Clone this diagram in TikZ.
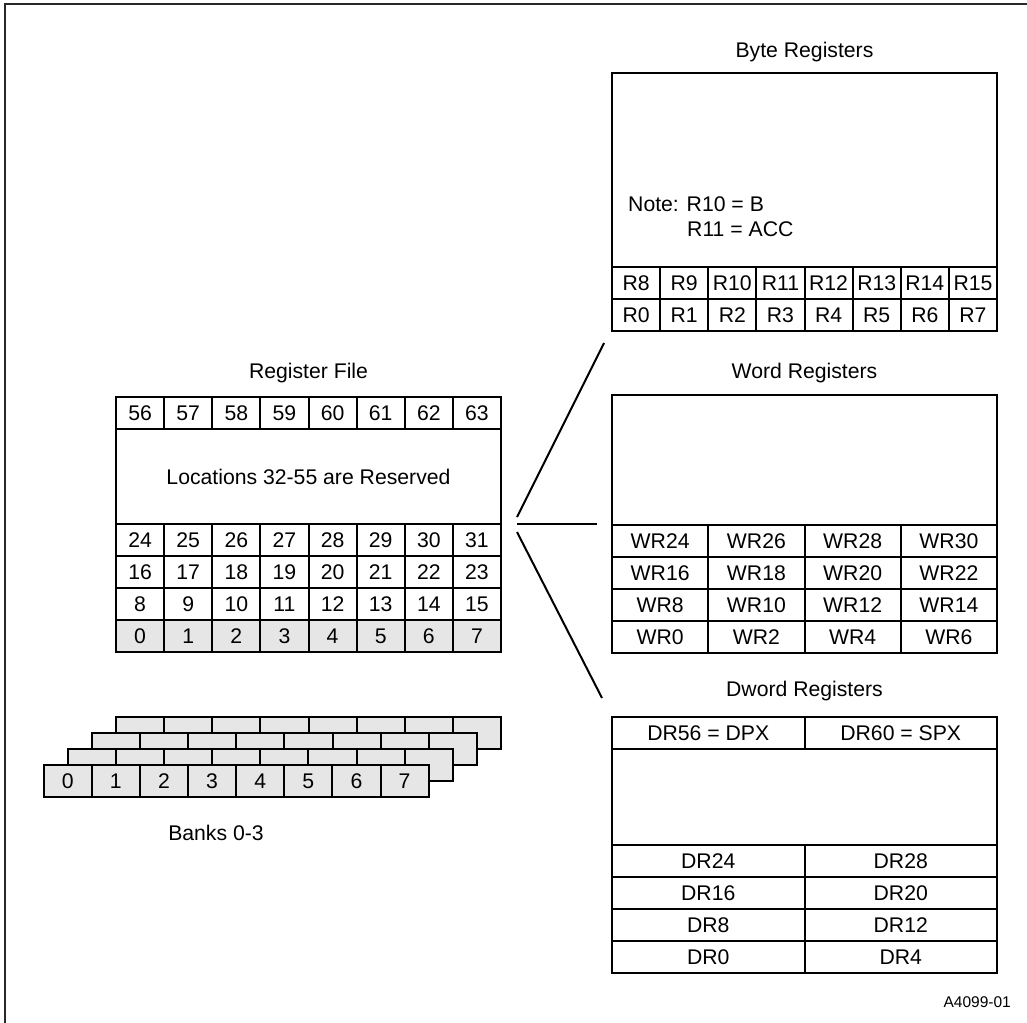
\documentclass[tikz,border=0pt]{standalone}
\usepackage{fontspec}
\setmainfont{Liberation Sans}
\definecolor{bankgray}{RGB}{230,230,230}
\definecolor{framegray}{RGB}{40,40,40}
\tikzset{
  txt/.style={inner sep=0pt, font=\fontsize{21.2}{25}\selectfont},
  box/.style={txt, draw, line width=2pt, minimum height=32pt},
  c8/.style={box, minimum width=48.125pt},
  c4/.style={box, minimum width=96.25pt},
  c2/.style={box, minimum width=192.5pt},
  bigbox/.style={box, minimum width=385pt},
  shaded/.style={fill=bankgray},
  conn/.style={line width=2pt},
  small/.style={inner sep=0pt, font=\fontsize{15.5}{18}\selectfont}
}
\begin{document}
\begin{tikzpicture}[x=1pt,y=-1pt]
\useasboundingbox (0,0) rectangle (1027,1022);
% frame
\draw[line width=2pt, framegray] (5,1023) -- (5,4) -- (1028,4);

% ---------- Register File ----------
\node[txt] (rftitle) at (308.5,373) {Register File};
\foreach \base/\y/\sty in {56/413/, 24/540/, 16/572/, 8/604/, 0/636/shaded} {
  \foreach \c in {0,...,7} {
    \pgfmathtruncatemacro{\n}{\base+\c}
    \node[c8,\sty] (rf\n) at ({116+48.125*(\c+0.5)},\y) {\n};
  }
}
\node[bigbox, minimum height=95pt] (rfres) at (308.5,476.5) {Locations 32-55 are Reserved};

% ---------- Banks ----------
\foreach \b in {3,2,1} {
  \foreach \c in {0,...,7} {
    \node[c8,shaded] (bank\b c\c) at ({43.7+24.1*\b+48.125*(\c+0.5)},{781-16*\b}) {};
  }
}
\foreach \c in {0,...,7} {
  \node[c8,shaded] (bank0c\c) at ({43.7+48.125*(\c+0.5)},781) {\c};
}
\node[txt] (banks) at (216,833) {Banks 0-3};

% ---------- Byte Registers ----------
\node[txt] (bytetitle) at (804.5,52) {Byte Registers};
\node[bigbox, minimum height=194pt] (bytebig) at (804.5,170) {};
\node[txt, anchor=west] (note1) at (628,204) {Note: R10 = B};
\node[txt, anchor=west] (note2) at (687,229) {R11 = ACC};
\foreach \c in {0,...,7} {
  \pgfmathtruncatemacro{\hi}{\c+8}
  \node[c8] (br\hi) at ({612+48.125*(\c+0.5)},283) {R\hi};
  \node[c8] (br\c) at ({612+48.125*(\c+0.5)},315) {R\c};
}

% ---------- Word Registers ----------
\node[txt] (wordtitle) at (804.5,373) {Word Registers};
\node[bigbox, minimum height=130pt] (wordbig) at (804.5,460) {};
\foreach \base/\y in {24/541, 16/573, 8/605, 0/637} {
  \foreach \c in {0,...,3} {
    \pgfmathtruncatemacro{\n}{\base+2*\c}
    \node[c4] (wr\n) at ({612+96.25*(\c+0.5)},\y) {WR\n};
  }
}

% ---------- Dword Registers ----------
\node[txt] (dwtitle) at (804.5,691) {Dword Registers};
\node[c2] (dr56) at (708.25,733) {DR56 = DPX};
\node[c2] (dr60) at (900.75,733) {DR60 = SPX};
\node[bigbox, minimum height=96pt] (dwbig) at (804.5,797) {};
\foreach \base/\y in {24/861, 16/893, 8/925, 0/957} {
  \foreach \c in {0,1} {
    \pgfmathtruncatemacro{\n}{\base+4*\c}
    \node[c2] (dr\n) at ({612+192.5*(\c+0.5)},\y) {DR\n};
  }
}

% ---------- connectors ----------
\coordinate (ua) at (517,517);
\coordinate (ub) at (604,343);
\coordinate (ma) at (517,524);
\coordinate (mb) at (597,524);
\coordinate (la) at (517,532);
\coordinate (lb) at (602,698);
\draw[conn] (ua) -- (ub);
\draw[conn] (ma) -- (mb);
\draw[conn] (la) -- (lb);

\node[small, anchor=east] (figid) at (1011,1002) {A4099-01};
\end{tikzpicture}
\end{document}
